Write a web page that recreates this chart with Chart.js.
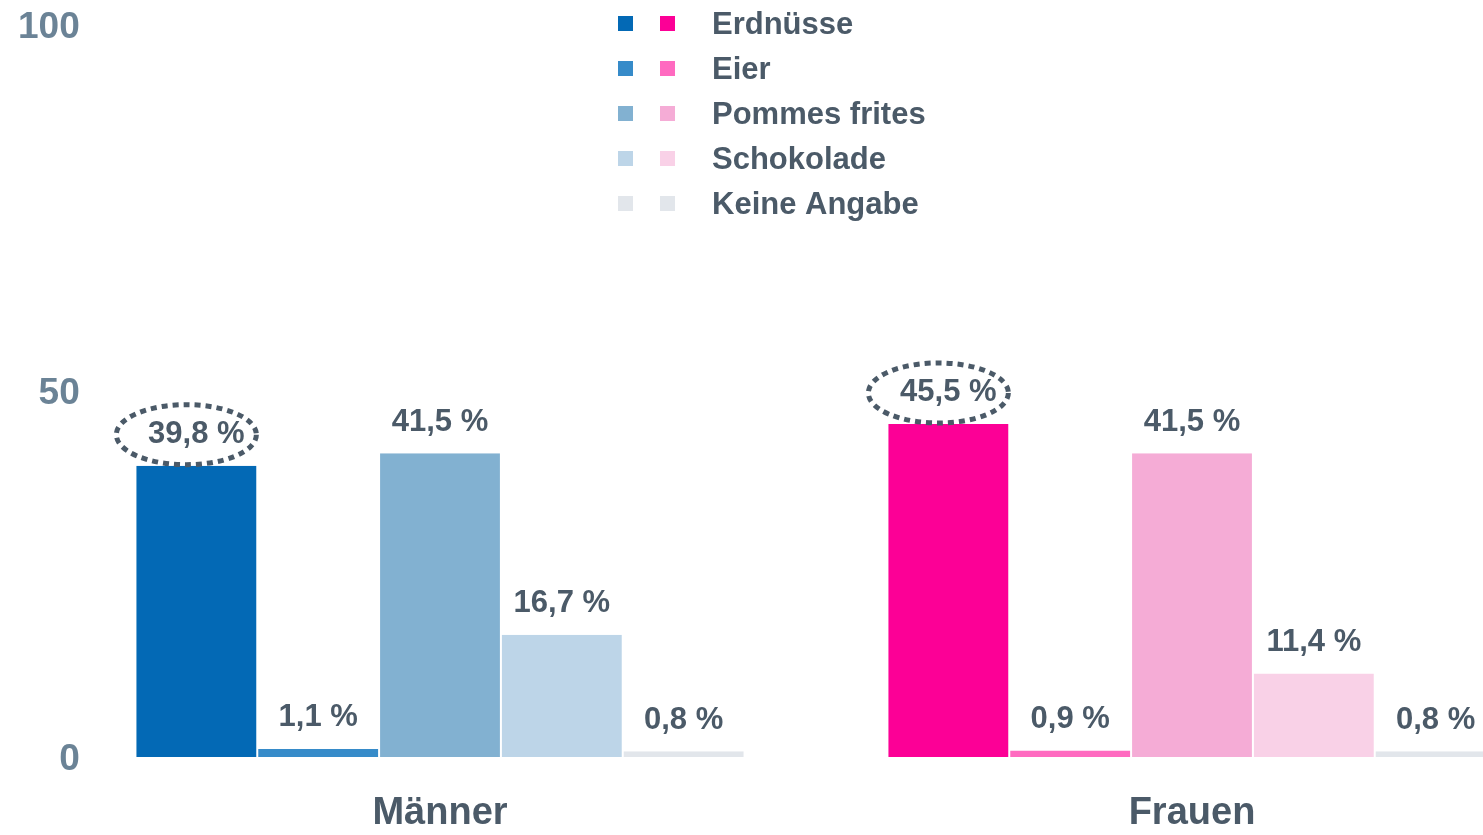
<!DOCTYPE html>
<html lang="de">
<head>
<meta charset="utf-8">
<title>Allergien nach Geschlecht</title>
<script src="https://cdn.jsdelivr.net/npm/chart.js@4.4.1/dist/chart.umd.min.js"></script>
<style>
  html, body { margin: 0; padding: 0; background: #fff; overflow: hidden; }
  #wrap { position: relative; width: 1568px; height: 835px; }
</style>
</head>
<body>
<div id="wrap"><canvas id="allergyChart"></canvas></div>
<script>
// Gruppen auf der x-Achse
const categories = ['Männer', 'Frauen'];

// Antwortkategorien (Legende)
const seriesNames = ['Erdnüsse', 'Eier', 'Pommes frites', 'Schokolade', 'Keine Angabe'];

// Werte in Prozent
const valuesMaenner = [39.8, 1.1, 41.5, 16.7, 0.8];
const valuesFrauen = [45.5, 0.9, 41.5, 11.4, 0.8];

// Farben je Gruppe
const colorsMaenner = ['#0369b5', '#368bc9', '#82b1d1', '#bdd5e8', '#e2e6eb'];
const colorsFrauen = ['#fc0096', '#ff6ac0', '#f5acd6', '#f9d1e7', '#e2e6eb'];

// y-Achse
const yTicks = [0, 50, 100];

const TEXT = '#4b5a68';
const TICK = '#6b8396';
const FONT = "'Liberation Sans', Arial, sans-serif";

function fmtPct(v) {
  return v.toFixed(1).replace('.', ',') + ' %';
}

const datasets = seriesNames.map((name, i) => ({
  label: name,
  data: [valuesMaenner[i], valuesFrauen[i]],
  backgroundColor: [colorsMaenner[i], colorsFrauen[i]],
  borderColor: '#ffffff',
  borderWidth: { left: 1, right: 1, top: 0, bottom: 0 },
  borderSkipped: false,
  categoryPercentage: 0.81,
  barPercentage: 1.0
}));

// value labels above bars, dotted ellipse around the first series
const valueLabels = {
  id: 'valueLabels',
  afterDatasetsDraw(chart) {
    const ctx = chart.ctx;
    ctx.save();
    ctx.font = 'bold 31px ' + FONT;
    ctx.fillStyle = TEXT;
    ctx.textAlign = 'center';
    ctx.textBaseline = 'middle';
    chart.data.datasets.forEach((ds, di) => {
      const meta = chart.getDatasetMeta(di);
      meta.data.forEach((bar, i) => {
        const cy = bar.y - 31;
        ctx.fillText(fmtPct(ds.data[i]), bar.x, cy);
        if (di === 0) {
          ctx.save();
          ctx.strokeStyle = TEXT;
          ctx.lineWidth = 5;
          ctx.setLineDash([6, 5]);
          ctx.beginPath();
          ctx.ellipse(bar.x - 10, cy, 70, 30, 0, 0, Math.PI * 2);
          ctx.stroke();
          ctx.restore();
        }
      });
    });
    ctx.restore();
  }
};

// legend with two swatches per row (Männer / Frauen)
const pairLegend = {
  id: 'pairLegend',
  afterDraw(chart) {
    const ctx = chart.ctx;
    ctx.save();
    ctx.font = 'bold 31px ' + FONT;
    ctx.textAlign = 'left';
    ctx.textBaseline = 'middle';
    seriesNames.forEach((name, i) => {
      const y = 24 + i * 45;
      ctx.fillStyle = colorsMaenner[i];
      ctx.fillRect(618, y - 8, 15, 15);
      ctx.fillStyle = colorsFrauen[i];
      ctx.fillRect(660, y - 8, 15, 15);
      ctx.fillStyle = TEXT;
      ctx.fillText(name, 712, y + 1);
    });
    ctx.restore();
  }
};

new Chart(document.getElementById('allergyChart'), {
  type: 'bar',
  data: { labels: categories, datasets: datasets },
  options: {
    responsive: true,
    maintainAspectRatio: false,
    animation: false,
    layout: { padding: { top: 25, right: 0, bottom: 0, left: 0 } },
    plugins: {
      legend: { display: false },
      tooltip: { enabled: false }
    },
    scales: {
      x: {
        afterFit(scale) { scale.height = 78; },
        grid: { display: false, drawTicks: false },
        border: { display: false },
        ticks: {
          color: TEXT,
          padding: 34,
          font: { family: FONT, size: 38, weight: 'bold', lineHeight: 1.2 }
        }
      },
      y: {
        min: 0,
        max: 100,
        afterFit(scale) { scale.width = 64; },
        afterBuildTicks(scale) { scale.ticks = yTicks.map(v => ({ value: v })); },
        grid: { display: false, drawTicks: false },
        border: { display: false },
        ticks: {
          color: TICK,
          mirror: true,
          crossAlign: 'far',
          padding: -46,
          labelOffset: 3,
          font: { family: FONT, size: 37, weight: 'bold' }
        }
      }
    }
  },
  plugins: [valueLabels, pairLegend]
});
</script>
</body>
</html>
